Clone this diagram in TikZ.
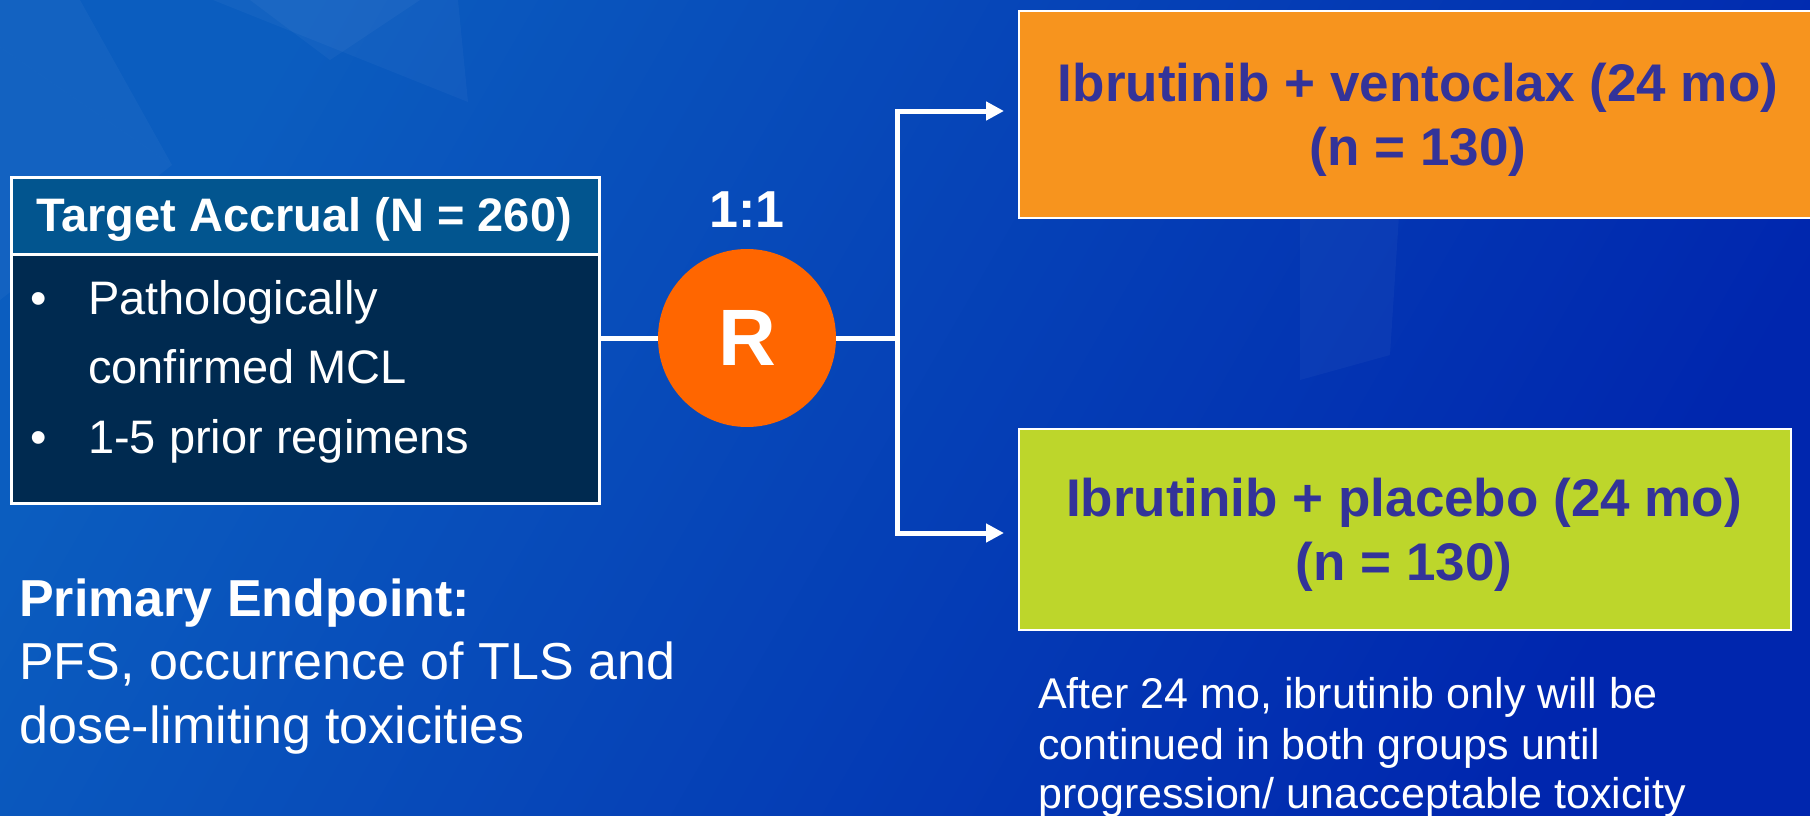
\documentclass[tikz,border=0pt]{standalone}
\usepackage{fontspec}
\setmainfont{Liberation Sans}
\usetikzlibrary{arrows.meta}
\definecolor{bgA}{HTML}{0B5DBF}
\definecolor{bgM}{HTML}{0048B9}
\definecolor{bgB}{HTML}{0026AE}
\definecolor{hdr}{HTML}{02558F}
\definecolor{bodyc}{HTML}{002A50}
\definecolor{rorange}{HTML}{FF6600}
\definecolor{armA}{HTML}{F7941E}
\definecolor{armB}{HTML}{BDD62B}
\definecolor{armtext}{HTML}{333399}
\newcommand{\fsz}[2]{\fontsize{#1}{#2}\selectfont}
\begin{document}
\begin{tikzpicture}[x=1pt,y=-1pt,
  conn/.style={draw=white, line width=5pt},
  arrowconn/.style={conn, -{Triangle[length=18pt,width=18pt]}},
  txt/.style={inner sep=0pt, text=white},
  armtxt/.style={inner sep=0pt, text=armtext, font=\bfseries\fsz{53}{64}, anchor=base},
  panel/.style={draw=white, inner sep=0pt, anchor=north west},
  facet/.style={fill=white, fill opacity=0.035, draw=none}
]
\useasboundingbox (0,0) rectangle (1810,816);
% background
\shade[top color=bgA, middle color=bgM, bottom color=bgB, shading angle=60] (0,0) rectangle (1810,816);
\fill[facet] (0,0) -- (80,0) -- (172,165) -- (0,47) -- cycle;
\fill[facet] (213,0) -- (458,0) -- (468,102) -- cycle;
\fill[facet] (0,47) -- (172,165) -- (0,300) -- cycle;
\fill[facet] (1300,200) -- (1400,200) -- (1390,355) -- (1300,380) -- cycle;
\fill[facet] (250,0) -- (420,0) -- (330,60) -- cycle;

% left box
\node[panel, line width=2.5pt, fill=bodyc, minimum width=588pt, minimum height=249pt] (body) at (10,253) {};
\node[panel, line width=2.5pt, fill=hdr, minimum width=588pt, minimum height=77pt] (head) at (10,176) {};
\node[txt, font=\bfseries\fsz{47}{56}, anchor=base] (headt) at (304,231.7) {Target Accrual (N = 260)};
\node[txt, font=\fsz{47}{56}, anchor=base west] (bul1) at (30,314) {•};
\node[txt, font=\fsz{47}{56}, anchor=base west] (l1) at (88,314) {Pathologically};
\node[txt, font=\fsz{47}{56}, anchor=base west] (l2) at (88,383) {confirmed MCL};
\node[txt, font=\fsz{47}{56}, anchor=base west] (bul2) at (30,453) {•};
\node[txt, font=\fsz{47}{56}, anchor=base west] (l3) at (88,453) {1-5 prior regimens};

% randomisation
\node[circle, fill=rorange, minimum size=178pt, inner sep=0pt, text=white, font=\bfseries\fsz{80}{96}] (R) at (747,338) {R};
\node[txt, font=\bfseries\fsz{52}{62}, anchor=base] (ratio) at (747,227) {1:1};

% arms
\node[panel, line width=2pt, fill=armA, minimum width=800pt, minimum height=207pt] (armv) at (1018,10) {};
\node[armtxt] (v1) at (1418,101.7) {Ibrutinib + ventoclax (24 mo)};
\node[armtxt] (v2) at (1418,165.7) {(n = 130)};
\node[panel, line width=2pt, fill=armB, minimum width=772pt, minimum height=201pt] (armp) at (1018,428) {};
\node[armtxt] (p1) at (1404,516.7) {Ibrutinib + placebo (24 mo)};
\node[armtxt] (p2) at (1404,580.7) {(n = 130)};

% connectors
\coordinate (split) at (897,338);
\draw[conn] (R.west -| body.east) -- (R.west);
\draw[conn] (R.east) -- (split);
\draw[arrowconn] (split) |- ([xshift=-14pt,yshift=3.5pt]armv.west);
\draw[arrowconn] (split) |- ([xshift=-14pt,yshift=-3.5pt]armp.west);

% endpoint text
\node[txt, font=\bfseries\fsz{52}{62}, anchor=base west] (pe) at (19,616.7) {Primary Endpoint:};
\node[txt, font=\fsz{52}{62}, anchor=base west] (pe1) at (19,679.3) {PFS, occurrence of TLS and};
\node[txt, font=\fsz{52}{62}, anchor=base west] (pe2) at (19,743) {dose-limiting toxicities};

% note
\node[txt, font=\fsz{43}{51}, anchor=base west] (n1) at (1038,708.3) {After 24 mo, ibrutinib only will be};
\node[txt, font=\fsz{43}{51}, anchor=base west] (n2) at (1038,759) {continued in both groups until};
\node[txt, font=\fsz{43}{51}, anchor=base west] (n3) at (1038,808) {progression/ unacceptable toxicity};
\end{tikzpicture}
\end{document}
